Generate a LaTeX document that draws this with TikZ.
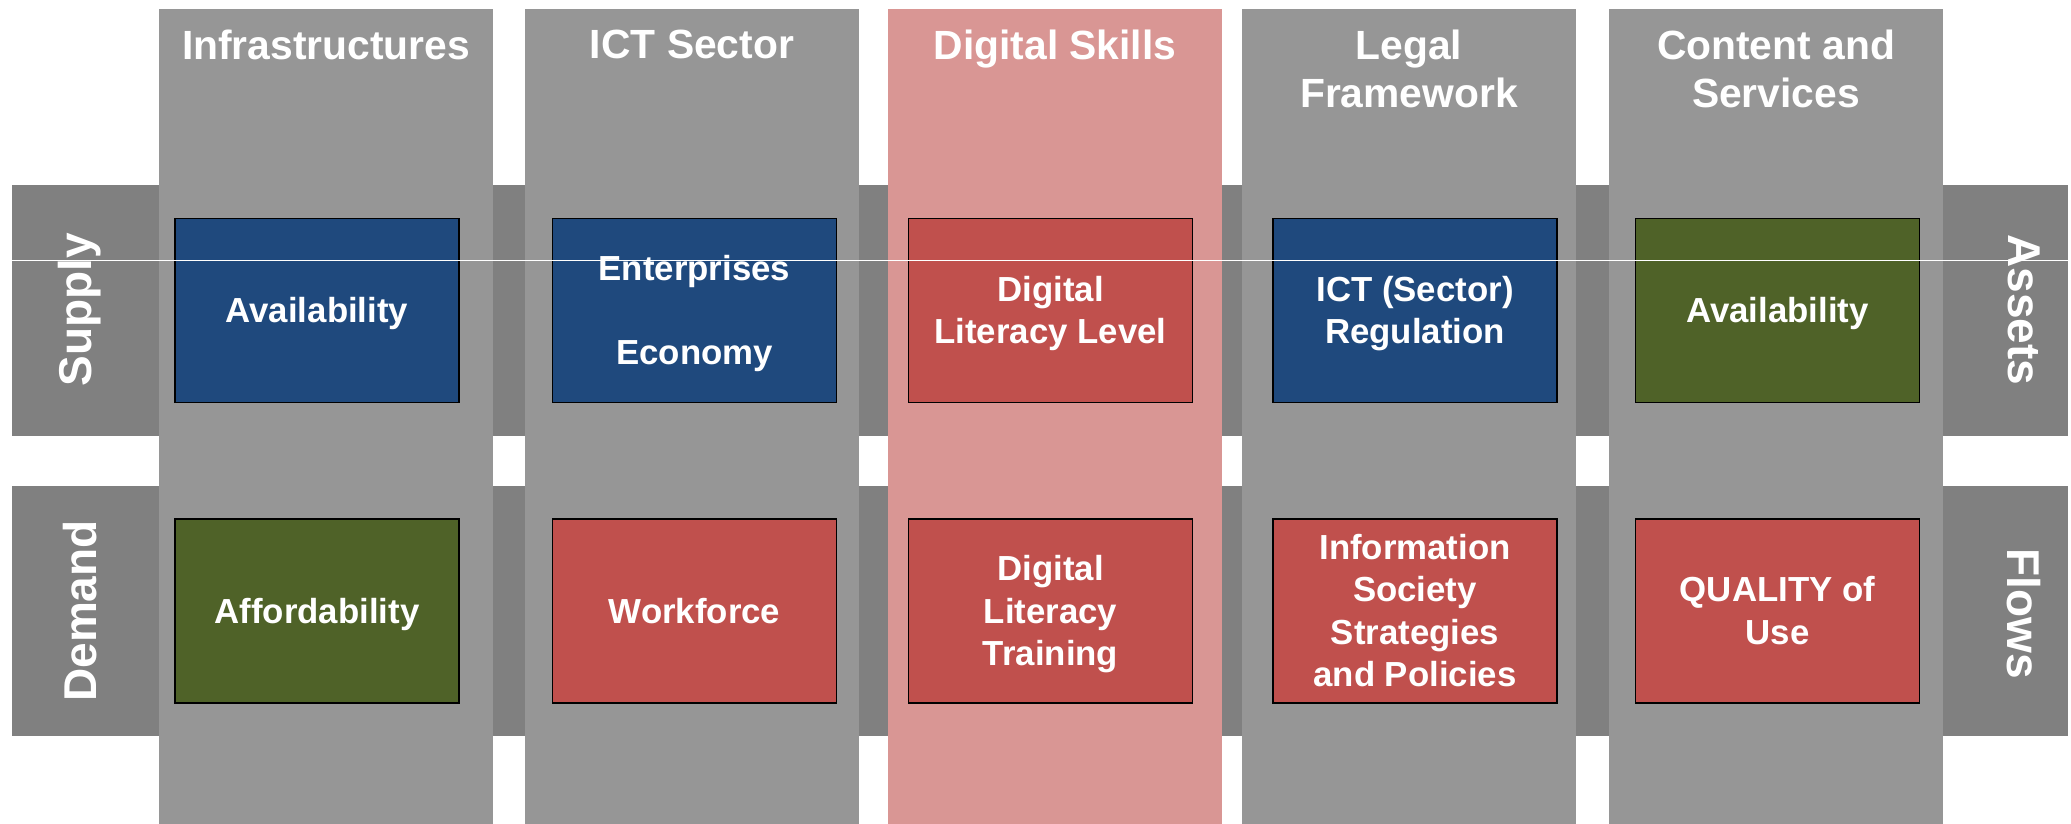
\documentclass[tikz,border=0pt]{standalone}
\usepackage{fontspec}
\setmainfont{Liberation Sans}
\usepackage{tikz}
\definecolor{colgray}{RGB}{150,150,150}
\definecolor{bandgray}{RGB}{128,128,128}
\definecolor{skillpink}{RGB}{217,150,148}
\definecolor{boxblue}{RGB}{31,73,125}
\definecolor{boxred}{RGB}{192,80,77}
\definecolor{boxgreen}{RGB}{79,98,40}
% struts so that every cell text is centred on its line boxes
\newcommand{\cellT}{\rule{0pt}{0.905em}}
\newcommand{\cellB}{\rule[-0.212em]{0pt}{0pt}}

\begin{document}
\begin{tikzpicture}[x=0.5pt,y=-0.5pt,
  head/.style={anchor=north,inner sep=0pt,text=white,align=center,
    font=\fontsize{20.4}{23.7}\selectfont\bfseries},
  cell/.style={draw=black,line width=0.9pt,minimum width=142pt,minimum height=92pt,
    inner sep=0pt,text=white,align=center,font=\fontsize{17.4}{21.2}\selectfont\bfseries},
  side/.style={text=white,inner sep=0pt,font=\fontsize{23}{27}\selectfont\bfseries}]
\useasboundingbox (0,0) rectangle (2071,824);
% rows
\fill[bandgray] (12,185) rectangle (2068,436);
\fill[bandgray] (12,486) rectangle (2068,736);
% columns
\fill[colgray] (159,9) rectangle (493,824);
\fill[colgray] (525,9) rectangle (859,824);
\fill[skillpink] (888,9) rectangle (1222,824);
\fill[colgray] (1242,9) rectangle (1576,824);
\fill[colgray] (1609,9) rectangle (1943,824);
\node[head] (infra) at (326,30) {Infrastructures};
\node[head] (ictsec) at (692,30) {ICT Sector};
\node[head] (skills) at (1055,30) {Digital Skills};
\node[head] (legal) at (1409,30) {Legal\\Framework};
\node[head] (content) at (1776,30) {Content and\\Services};
% row labels
\node[side,rotate=90] (supply) at (80,310) {Supply};
\node[side,rotate=90] (demand) at (80,611) {Demand};
\node[side,rotate=-90] (assets) at (2024,310) {Assets};
\node[side,rotate=-90] (flows) at (2024,614) {Flows};
% supply boxes
\node[cell,fill=boxblue] (avail) at (317,310.5) {\cellT Availability\cellB};
\node[cell,fill=boxblue] (enterp) at (694.5,310.5) {\cellT Enterprises\\[21.2pt]Economy\cellB};
\node[cell,fill=boxred] (litlevel) at (1050.5,310.5) {\cellT Digital\\Literacy Level\cellB};
\node[cell,fill=boxblue] (regul) at (1415,310.5) {\cellT ICT (Sector)\\Regulation\cellB};
\node[cell,fill=boxgreen] (contavail) at (1777.5,310.5) {\cellT Availability\cellB};
% demand boxes
\node[cell,fill=boxgreen] (afford) at (317,611) {\cellT Affordability\cellB};
\node[cell,fill=boxred] (workf) at (694.5,611) {\cellT Workforce\cellB};
\node[cell,fill=boxred] (littrain) at (1050.5,611) {\cellT Digital\\Literacy\\Training\cellB};
\node[cell,fill=boxred] (strat) at (1415,611) {\cellT Information\\Society\\Strategies\\and Policies\cellB};
\node[cell,fill=boxred] (quality) at (1777.5,611) {\cellT QUALITY of\\Use\cellB};
% thin white rule
\coordinate (ruleL) at (12,260);
\coordinate (ruleR) at (2068,260);
\draw[white,line width=0.5pt] (ruleL) -- (ruleR);
\end{tikzpicture}
\end{document}
